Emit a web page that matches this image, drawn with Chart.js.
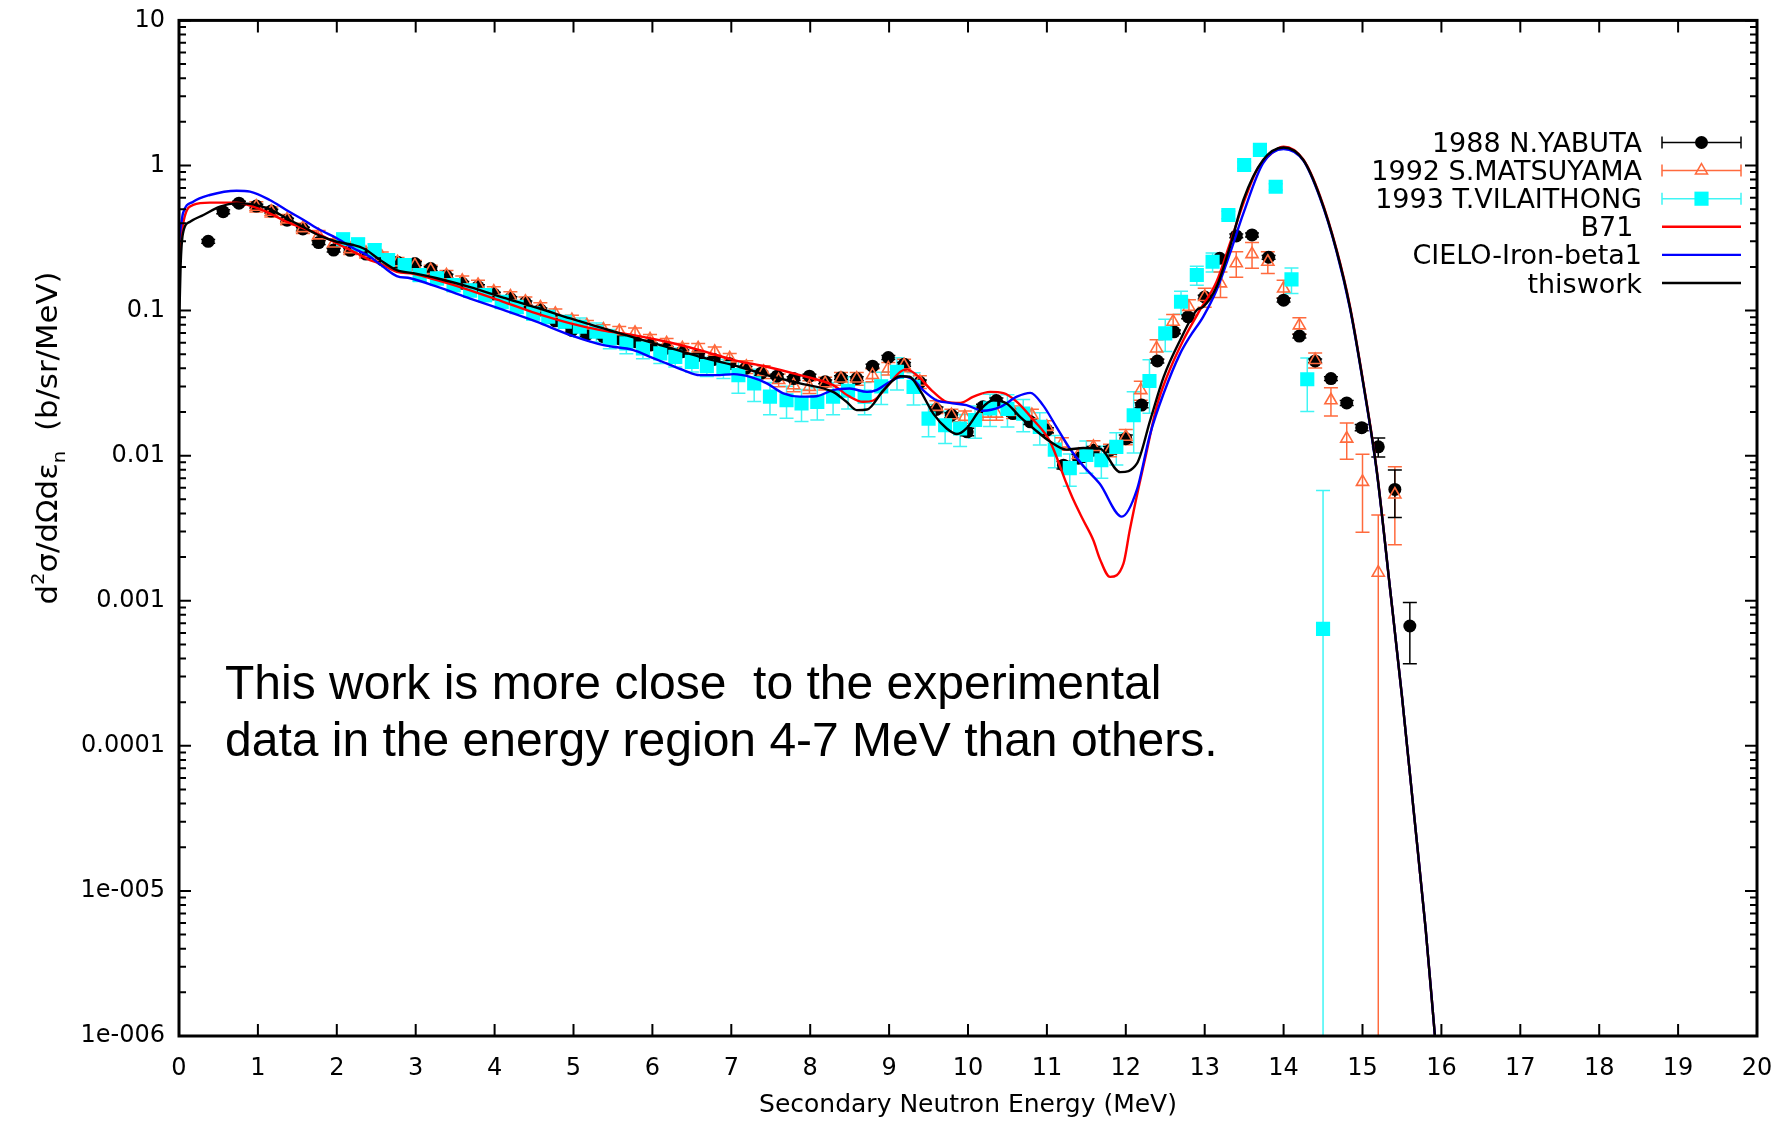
<!DOCTYPE html>
<html>
<head>
<meta charset="utf-8">
<title>Secondary neutron energy spectrum</title>
<script src="https://cdn.jsdelivr.net/npm/chart.js@4.4.1/dist/chart.umd.min.js"></script>
<style>
  html, body { margin: 0; padding: 0; background: #fff; }
  #wrap { position: relative; width: 1785px; height: 1121px; overflow: hidden; }
  #chart { position: absolute; left: 0; top: 0; }
  #note {
    position: absolute; left: 225px; top: 654px;
    font-family: 'Liberation Sans', Arial, sans-serif; font-size: 48px; line-height: 57px;
    color: #000; white-space: pre;
  }
</style>
</head>
<body>
<div id="wrap">
  <canvas id="chart" width="1785" height="1121"></canvas>
  <div id="note">This work is more close  to the experimental
data in the energy region 4-7 MeV than others.</div>
</div>
<script>
// axis ticks
var yTickValues = [1e-6, 1e-5, 1e-4, 1e-3, 1e-2, 1e-1, 1, 10];
var yTickLabels = ['1e-006', '1e-005', '0.0001', '0.001', '0.01', '0.1', '1', '10'];

// series names
var yabutaLabel = '1988 N.YABUTA';
var matsuLabel = '1992 S.MATSUYAMA';
var vilaLabel = '1993 T.VILAITHONG';
var b71Label = 'B71 ';
var cieloLabel = 'CIELO-Iron-beta1';
var thisworkLabel = 'thiswork';

// 1988 N.YABUTA (energy MeV, value b/sr/MeV, relative error)
var yabutaE = [0.37, 0.56, 0.76, 0.98, 1.17, 1.37, 1.57, 1.77, 1.96, 2.17,
  2.37, 2.57, 2.77, 2.99, 3.19, 3.39, 3.59, 3.79, 3.99,
  4.20, 4.39, 4.58, 4.77, 4.98, 5.17, 5.38, 5.58, 5.78, 5.98,
  6.18, 6.38, 6.58, 6.78, 6.98, 7.18, 7.38, 7.58, 7.79, 7.99,
  8.19, 8.39, 8.59, 8.79, 8.99, 9.19, 9.39, 9.60, 9.79, 9.99,
  10.19, 10.36, 10.57, 10.79, 11.00, 11.21, 11.40, 11.59, 11.80, 12.00,
  12.20, 12.40, 12.61, 12.79, 13.00, 13.19, 13.40, 13.60, 13.81, 14.00,
  14.20, 14.40, 14.60, 14.80, 14.99, 15.20, 15.41, 15.60];
var yabutaV = [0.30, 0.48, 0.55, 0.525, 0.485, 0.42, 0.365, 0.294, 0.261, 0.26,
  0.245, 0.225, 0.215, 0.211, 0.195, 0.173, 0.154, 0.146, 0.13,
  0.121, 0.113, 0.101, 0.085, 0.073, 0.0686, 0.066, 0.064, 0.061, 0.058,
  0.055, 0.052, 0.049, 0.046, 0.043, 0.040, 0.037, 0.0353, 0.034, 0.0353,
  0.0323, 0.0345, 0.034, 0.0414, 0.0475, 0.0426, 0.032, 0.0208, 0.019, 0.0146,
  0.0217, 0.024, 0.0195, 0.0171, 0.015, 0.0086, 0.0096, 0.0109, 0.0109, 0.0131,
  0.0223, 0.0449, 0.0714, 0.0906, 0.124, 0.229, 0.327, 0.332, 0.233, 0.118,
  0.0667, 0.045, 0.034, 0.0231, 0.0156, 0.0115, 0.00585, 0.00067];
var yabutaErr = [0.03, 0.03, 0.03, 0.03, 0.03, 0.03, 0.03, 0.03, 0.03, 0.03,
  0.03, 0.03, 0.03, 0.03, 0.03, 0.03, 0.03, 0.03, 0.03,
  0.03, 0.03, 0.03, 0.03, 0.03, 0.03, 0.03, 0.03, 0.03, 0.03,
  0.03, 0.03, 0.03, 0.03, 0.03, 0.03, 0.03, 0.03, 0.03, 0.03,
  0.03, 0.03, 0.03, 0.03, 0.03, 0.03, 0.04, 0.04, 0.04, 0.06,
  0.04, 0.04, 0.04, 0.04, 0.04, 0.06, 0.06, 0.06, 0.06, 0.06,
  0.04, 0.03, 0.03, 0.03, 0.03, 0.03, 0.03, 0.03, 0.03, 0.03,
  0.03, 0.03, 0.03, 0.04, 0.05, 0.15, 0.36, 0.45];

// 1992 S.MATSUYAMA
var matsuE = [0.98, 1.17, 1.37, 1.57, 1.77, 1.96, 2.17, 2.37, 2.57, 2.77,
  2.99, 3.19, 3.39, 3.59, 3.79, 3.99, 4.20, 4.39, 4.58, 4.77,
  4.98, 5.17, 5.38, 5.58, 5.78, 5.97, 6.18, 6.38, 6.58, 6.79,
  6.98, 7.19, 7.41, 7.60, 7.79, 7.99, 8.19, 8.39, 8.59, 8.79,
  8.99, 9.19, 9.39, 9.60, 9.79, 9.96, 10.19, 10.36, 10.57, 10.81,
  11.00, 11.19, 11.40, 11.59, 11.80, 12.00, 12.19, 12.39, 12.60, 12.80,
  13.00, 13.20, 13.40, 13.60, 13.80, 14.00, 14.20, 14.40, 14.60, 14.80,
  15.00, 15.20, 15.41];
var matsuV = [0.52, 0.48, 0.425, 0.37, 0.33, 0.29, 0.265, 0.25, 0.235, 0.215,
  0.205, 0.19, 0.175, 0.16, 0.15, 0.135, 0.125, 0.115, 0.105, 0.095,
  0.086, 0.079, 0.074, 0.072, 0.0703, 0.0633, 0.0594, 0.0548, 0.0548, 0.052,
  0.0468, 0.041, 0.0378, 0.0332, 0.0306, 0.0298, 0.0315, 0.034, 0.034, 0.0359,
  0.0399, 0.042, 0.0323, 0.0217, 0.019, 0.0185, 0.0195, 0.0195, 0.020, 0.019,
  0.0158, 0.0121, 0.0101, 0.0115, 0.0109, 0.0135, 0.0283, 0.0548, 0.0838, 0.106,
  0.124, 0.154, 0.212, 0.245, 0.217, 0.142, 0.079, 0.0456, 0.0241, 0.0131,
  0.0066, 0.00156, 0.0054];
var matsuErr = [0.08, 0.08, 0.08, 0.08, 0.08, 0.08, 0.08, 0.08, 0.08, 0.08,
  0.08, 0.08, 0.08, 0.08, 0.08, 0.08, 0.08, 0.08, 0.08, 0.08,
  0.08, 0.08, 0.08, 0.08, 0.08, 0.08, 0.08, 0.08, 0.08, 0.08,
  0.08, 0.1, 0.1, 0.1, 0.1, 0.1, 0.1, 0.1, 0.1, 0.1,
  0.1, 0.1, 0.1, 0.1, 0.1, 0.1, 0.1, 0.1, 0.1, 0.1,
  0.1, 0.1, 0.1, 0.1, 0.1, 0.12, 0.15, 0.15, 0.12, 0.12,
  0.15, 0.2, 0.2, 0.2, 0.17, 0.14, 0.13, 0.12, 0.22, 0.28,
  0.55, 1.5, 0.55];

// 1993 T.VILAITHONG
var vilaE = [2.08, 2.27, 2.48, 2.65, 2.86, 3.05, 3.27, 3.48, 3.69, 3.88,
  4.09, 4.28, 4.49, 4.68, 4.89, 5.08, 5.29, 5.46, 5.67, 5.88,
  6.10, 6.29, 6.50, 6.69, 6.90, 7.09, 7.29, 7.49, 7.70, 7.89,
  8.09, 8.29, 8.48, 8.69, 8.90, 9.10, 9.31, 9.50, 9.71, 9.90,
  10.09, 10.28, 10.50, 10.70, 10.91, 11.10, 11.29, 11.50, 11.69, 11.88,
  12.10, 12.30, 12.50, 12.70, 12.90, 13.10, 13.30, 13.50, 13.70, 13.90,
  14.10, 14.30, 14.50];
var vilaV = [0.31, 0.286, 0.261, 0.223, 0.206, 0.176, 0.167, 0.15, 0.138, 0.128,
  0.115, 0.106, 0.0957, 0.0906, 0.0838, 0.0773, 0.0714, 0.0643, 0.0594, 0.0548,
  0.0507, 0.048, 0.0443, 0.0414, 0.040, 0.0359, 0.0315, 0.0255, 0.0241, 0.0229,
  0.0235, 0.0255, 0.028, 0.0255, 0.030, 0.0378, 0.0298, 0.018, 0.0162, 0.0154,
  0.0176, 0.0212, 0.021, 0.0195, 0.0158, 0.011, 0.0082, 0.0101, 0.0093, 0.0115,
  0.019, 0.0327, 0.0697, 0.115, 0.176, 0.217, 0.456, 1.008, 1.28, 0.714,
  0.164, 0.0336, 0.00064];
var vilaErr = [0.1, 0.1, 0.1, 0.1, 0.1, 0.1, 0.1, 0.1, 0.1, 0.1,
  0.1, 0.1, 0.1, 0.1, 0.1, 0.15, 0.15, 0.15, 0.15, 0.15,
  0.15, 0.15, 0.15, 0.15, 0.15, 0.25, 0.25, 0.25, 0.25, 0.25,
  0.25, 0.25, 0.25, 0.25, 0.25, 0.25, 0.25, 0.25, 0.25, 0.25,
  0.25, 0.25, 0.25, 0.25, 0.25, 0.25, 0.25, 0.25, 0.25, 0.25,
  0.45, 0.4, 0.25, 0.18, 0.15, 0.15, 0.06, 0.05, 0.05, 0.05,
  0.2, 0.4, 8];

// B71 evaluation
var b71E = [0.00, 0.03, 0.07, 0.18, 0.39, 0.73, 0.94, 1.15, 1.36, 1.58,
  1.79, 2.00, 2.21, 2.42, 2.55, 2.76, 2.97, 3.27, 3.69, 4.11,
  4.53, 4.96, 5.36, 5.76, 6.18, 6.60, 7.03, 7.45, 7.87, 8.29,
  8.50, 8.67, 8.80, 8.97, 9.14, 9.22, 9.35, 9.56, 9.73, 9.90,
  10.07, 10.28, 10.45, 10.62, 10.83, 11.04, 11.25, 11.34, 11.46, 11.59,
  11.67, 11.80, 11.97, 12.05, 12.16, 12.26, 12.39, 12.52, 12.73, 12.94,
  13.15, 13.32, 13.49, 13.66, 13.78, 14.00, 14.25, 14.46, 14.67, 14.84,
  15.01, 15.18, 15.35, 15.50, 15.65, 15.80, 15.90, 16.00];
var b71V = [0.2, 0.32, 0.44, 0.535, 0.555, 0.555, 0.52, 0.468, 0.41, 0.369,
  0.332, 0.29, 0.255, 0.223, 0.211, 0.185, 0.179, 0.162, 0.138, 0.115,
  0.0957, 0.0817, 0.073, 0.0678, 0.061, 0.0534, 0.0456, 0.041, 0.0359, 0.0306,
  0.0255, 0.0235, 0.024, 0.0298, 0.0378, 0.0393, 0.0359, 0.0275, 0.0235, 0.0231,
  0.0255, 0.0275, 0.027, 0.0235, 0.0176, 0.0125, 0.0064, 0.0049, 0.0036, 0.0026,
  0.00195, 0.00146, 0.0018, 0.00306, 0.00594, 0.0104, 0.0217, 0.0349, 0.0627, 0.101,
  0.158, 0.29, 0.548, 0.93, 1.12, 1.35, 1.1, 0.62, 0.265, 0.108,
  0.032, 0.008, 0.0012, 0.00022, 0.000035, 0.0000055, 0.0000013, 0.0000003];

// CIELO-Iron-beta1 evaluation
var cieloE = [0.00, 0.03, 0.05, 0.18, 0.39, 0.73, 0.90, 1.15, 1.36, 1.58,
  1.79, 2.00, 2.21, 2.42, 2.59, 2.76, 2.93, 3.27, 3.69, 4.11,
  4.53, 4.96, 5.38, 5.76, 5.97, 6.18, 6.39, 6.60, 6.81, 7.03,
  7.24, 7.45, 7.66, 7.87, 8.08, 8.29, 8.50, 8.72, 8.84, 9.01,
  9.18, 9.31, 9.43, 9.60, 9.77, 9.98, 10.19, 10.41, 10.62, 10.79,
  10.95, 11.12, 11.29, 11.46, 11.67, 11.95, 12.14, 12.31, 12.48, 12.69,
  12.81, 12.98, 13.15, 13.32, 13.49, 13.74, 14.00, 14.25, 14.46, 14.67,
  14.84, 15.01, 15.18, 15.35, 15.50, 15.65, 15.80, 15.90, 16.00];
var cieloV = [0.3, 0.4, 0.468, 0.563, 0.626, 0.67, 0.66, 0.578, 0.493, 0.421,
  0.359, 0.315, 0.269, 0.235, 0.20, 0.173, 0.167, 0.146, 0.121, 0.101,
  0.0838, 0.0678, 0.0578, 0.0534, 0.048, 0.0432, 0.0389, 0.0359, 0.0359, 0.0365,
  0.0349, 0.0315, 0.0269, 0.0255, 0.0257, 0.0283, 0.029, 0.0275, 0.0283, 0.0323,
  0.0353, 0.0332, 0.0283, 0.0241, 0.0231, 0.0223, 0.0204, 0.0217, 0.0255, 0.0271,
  0.0223, 0.0158, 0.0112, 0.0085, 0.0064, 0.0038, 0.0058, 0.0142, 0.0269, 0.0507,
  0.0659, 0.0906, 0.138, 0.248, 0.468, 1.04, 1.3, 1.08, 0.6, 0.257,
  0.104, 0.031, 0.0078, 0.0012, 0.00022, 0.000035, 0.0000055, 0.0000013, 0.0000003];

// this work
var thisworkE = [0.00, 0.02, 0.05, 0.14, 0.31, 0.52, 0.73, 0.94, 1.15, 1.36,
  1.58, 1.79, 2.00, 2.21, 2.34, 2.55, 2.76, 2.97, 3.27, 3.69,
  4.11, 4.53, 4.96, 5.38, 5.76, 6.18, 6.60, 7.03, 7.45, 7.87,
  8.29, 8.46, 8.59, 8.72, 8.93, 9.14, 9.26, 9.39, 9.56, 9.73,
  9.86, 9.98, 10.15, 10.32, 10.49, 10.66, 10.83, 11.04, 11.25, 11.46,
  11.67, 11.93, 12.14, 12.31, 12.48, 12.69, 12.90, 12.98, 13.15, 13.32,
  13.49, 13.74, 14.00, 14.25, 14.46, 14.67, 14.84, 15.01, 15.18, 15.35,
  15.50, 15.65, 15.80, 15.90, 16.00];
var thisworkV = [0.07, 0.2, 0.34, 0.41, 0.456, 0.52, 0.548, 0.54, 0.50, 0.433,
  0.375, 0.327, 0.298, 0.283, 0.268, 0.223, 0.19, 0.181, 0.167, 0.145,
  0.123, 0.105, 0.0883, 0.0753, 0.0653, 0.0562, 0.048, 0.042, 0.0359, 0.0315,
  0.0275, 0.0235, 0.0206, 0.0208, 0.0283, 0.0353, 0.035, 0.0283, 0.0195, 0.0154,
  0.0141, 0.0154, 0.0206, 0.0241, 0.0229, 0.0185, 0.0154, 0.0125, 0.011, 0.0113,
  0.0112, 0.0077, 0.0088, 0.0176, 0.0349, 0.0627, 0.101, 0.106, 0.146, 0.275,
  0.578, 1.09, 1.33, 1.09, 0.61, 0.261, 0.106, 0.0315, 0.0079, 0.0012,
  0.00022, 0.000035, 0.0000055, 0.0000013, 0.0000003];

var ORANGE = '#ff6a3d';
var CYAN = '#00ffff';

function pts(xs, ys) {
  return xs.map(function(x, i) { return { x: x, y: ys[i] }; });
}

// vertical error bars with caps, drawn under the markers
var errorBars = {
  id: 'errorBars',
  beforeDatasetsDraw: function(chart) {
    var ctx = chart.ctx, a = chart.chartArea;
    var xs = chart.scales.x, ys = chart.scales.y;
    ctx.save();
    ctx.beginPath();
    ctx.rect(a.left, a.top, a.width, a.height);
    ctx.clip();
    chart.data.datasets.forEach(function(ds) {
      if (!ds.errPct) return;
      ctx.strokeStyle = ds.errColor;
      ctx.lineWidth = 1.5;
      ds.data.forEach(function(p, i) {
        var e = ds.errPct[i] * p.y;
        var px = xs.getPixelForValue(p.x);
        var hi = ys.getPixelForValue(p.y + e);
        var loVal = p.y - e;
        var lo = loVal > 0 ? ys.getPixelForValue(loVal) : a.bottom + 5;
        ctx.beginPath();
        ctx.moveTo(px, hi);
        ctx.lineTo(px, lo);
        ctx.moveTo(px - 7, hi);
        ctx.lineTo(px + 7, hi);
        if (loVal > 0) {
          ctx.moveTo(px - 7, lo);
          ctx.lineTo(px + 7, lo);
        }
        ctx.stroke();
      });
    });
    ctx.restore();
  }
};

// gnuplot-like frame with inward ticks on all four sides
var frameTicks = {
  id: 'frameTicks',
  afterDraw: function(chart) {
    var ctx = chart.ctx, a = chart.chartArea;
    var xs = chart.scales.x, ys = chart.scales.y;
    ctx.save();
    ctx.strokeStyle = '#000';
    ctx.lineWidth = 2;
    ctx.beginPath();
    xs.ticks.forEach(function(t) {
      var px = xs.getPixelForValue(t.value);
      ctx.moveTo(px, a.bottom);
      ctx.lineTo(px, a.bottom - 12);
      ctx.moveTo(px, a.top);
      ctx.lineTo(px, a.top + 12);
    });
    ys.ticks.forEach(function(t) {
      var py = ys.getPixelForValue(t.value);
      ctx.moveTo(a.left, py);
      ctx.lineTo(a.left + 12, py);
      ctx.moveTo(a.right, py);
      ctx.lineTo(a.right - 12, py);
      if (t.value < 10) {
        for (var k = 2; k <= 9; k++) {
          var pm = ys.getPixelForValue(t.value * k);
          ctx.moveTo(a.left, pm);
          ctx.lineTo(a.left + 7, pm);
          ctx.moveTo(a.right, pm);
          ctx.lineTo(a.right - 7, pm);
        }
      }
    });
    ctx.stroke();
    ctx.lineWidth = 3;
    ctx.strokeRect(a.left, a.top, a.width, a.height);
    ctx.restore();
  }
};

// rotated y title with superscript and subscript
var yTitle = {
  id: 'yTitle',
  afterDraw: function(chart) {
    var ctx = chart.ctx;
    var size = 28;
    var parts = [
      { t: 'd', s: 1, dy: 0 },
      { t: '2', s: 0.65, dy: -0.45 },
      { t: 'σ/dΩdε', s: 1, dy: 0 },
      { t: 'n', s: 0.65, dy: 0.3 },
      { t: '  (b/sr/MeV)', s: 1, dy: 0 }
    ];
    ctx.save();
    var total = 0;
    parts.forEach(function(p) {
      ctx.font = Math.round(size * p.s) + "px 'DejaVu Sans'";
      p.w = ctx.measureText(p.t).width;
      total += p.w;
    });
    ctx.translate(57, 438);
    ctx.rotate(-Math.PI / 2);
    ctx.scale(1.1, 1);
    ctx.fillStyle = '#000';
    ctx.textBaseline = 'alphabetic';
    var x = -total / 2;
    parts.forEach(function(p) {
      ctx.font = Math.round(size * p.s) + "px 'DejaVu Sans'";
      ctx.fillText(p.t, x, p.dy * size);
      x += p.w;
    });
    ctx.restore();
  }
};

// key in the upper right corner
var keyBox = {
  id: 'keyBox',
  afterDraw: function(chart) {
    var ctx = chart.ctx;
    var order = [5, 4, 3, 2, 1, 0];
    ctx.save();
    ctx.font = "27px 'DejaVu Sans'";
    ctx.textAlign = 'right';
    ctx.textBaseline = 'alphabetic';
    order.forEach(function(di, row) {
      var ds = chart.data.datasets[di];
      var cy = 142.5 + row * 28.1;
      ctx.fillStyle = '#000';
      ctx.fillText(ds.label, 1642, cy + 9.5);
      var x0 = 1662, x1 = 1741, xm = (x0 + x1) / 2;
      if (ds.errPct) {
        ctx.strokeStyle = ds.errColor;
        ctx.lineWidth = 1.5;
        ctx.beginPath();
        ctx.moveTo(x0, cy); ctx.lineTo(x1, cy);
        ctx.moveTo(x0, cy - 6); ctx.lineTo(x0, cy + 6);
        ctx.moveTo(x1, cy - 6); ctx.lineTo(x1, cy + 6);
        ctx.stroke();
        ctx.fillStyle = ds.backgroundColor;
        ctx.strokeStyle = ds.borderColor || ds.backgroundColor;
        Chart.helpers.drawPoint(ctx, {
          pointStyle: ds.pointStyle, radius: ds.pointRadius,
          rotation: 0, borderWidth: ds.borderWidth
        }, xm, cy);
      } else {
        ctx.strokeStyle = ds.borderColor;
        ctx.lineWidth = ds.borderWidth;
        ctx.beginPath();
        ctx.moveTo(x0, cy); ctx.lineTo(x1, cy);
        ctx.stroke();
      }
    });
    ctx.restore();
  }
};

Chart.defaults.font.family = "'DejaVu Sans', sans-serif";
Chart.defaults.color = '#000';

var lineStyle = { showLine: true, pointRadius: 0, borderWidth: 2.4, fill: false, cubicInterpolationMode: 'monotone' };

var chart = new Chart(document.getElementById('chart').getContext('2d'), {
  type: 'scatter',
  data: {
    datasets: [
      Object.assign({ label: thisworkLabel, data: pts(thisworkE, thisworkV), borderColor: '#000000', backgroundColor: '#000000' }, lineStyle),
      Object.assign({ label: cieloLabel, data: pts(cieloE, cieloV), borderColor: '#0000ff', backgroundColor: '#0000ff' }, lineStyle),
      Object.assign({ label: b71Label, data: pts(b71E, b71V), borderColor: '#ff0000', backgroundColor: '#ff0000' }, lineStyle),
      {
        label: vilaLabel, data: pts(vilaE, vilaV),
        pointStyle: 'rect', pointRadius: 10, backgroundColor: CYAN, borderColor: CYAN, borderWidth: 0,
        errPct: vilaErr, errColor: '#3ff5f5'
      },
      {
        label: matsuLabel, data: pts(matsuE, matsuV),
        pointStyle: 'triangle', pointRadius: 7, backgroundColor: 'rgba(255,255,255,0)', borderColor: ORANGE, borderWidth: 1.6,
        errPct: matsuErr, errColor: ORANGE
      },
      {
        label: yabutaLabel, data: pts(yabutaE, yabutaV),
        pointStyle: 'circle', pointRadius: 6.5, backgroundColor: '#000000', borderColor: '#000000', borderWidth: 0,
        errPct: yabutaErr, errColor: '#000000'
      }
    ]
  },
  options: {
    responsive: false,
    animation: false,
    events: [],
    layout: { padding: { left: 0, right: 28, top: 16, bottom: 0 } },
    plugins: { legend: { display: false }, tooltip: { enabled: false } },
    scales: {
      x: {
        type: 'linear', min: 0, max: 20,
        grid: { display: false }, border: { display: false },
        ticks: { stepSize: 1, autoSkip: false, maxRotation: 0, padding: 10, font: { size: 24 } },
        title: { display: true, text: 'Secondary Neutron Energy (MeV)', font: { size: 25 }, padding: { top: 0, bottom: 1 } },
        afterFit: function(s) { s.height = 85; }
      },
      y: {
        type: 'logarithmic', min: 1e-6, max: 10,
        grid: { display: false }, border: { display: false },
        afterBuildTicks: function(s) { s.ticks = yTickValues.map(function(v) { return { value: v }; }); },
        ticks: {
          autoSkip: false, padding: 6, font: { size: 24 },
          callback: function(v, i) { return yTickLabels[i]; }
        },
        afterFit: function(s) { s.width = 179; }
      }
    }
  },
  plugins: [errorBars, frameTicks, yTitle, keyBox]
});
</script>
</body>
</html>
